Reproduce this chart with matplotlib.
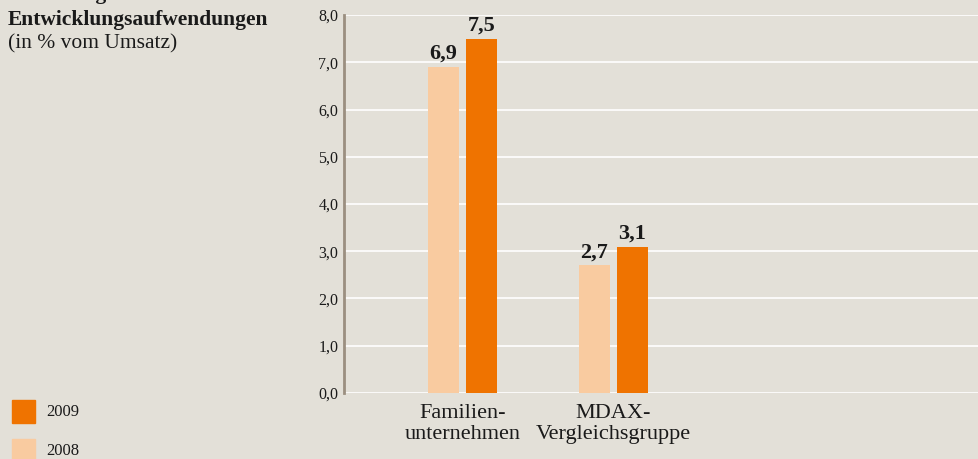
import numpy as np
import matplotlib.pyplot as plt

plt.rcParams["font.family"] = ["Liberation Serif", "DejaVu Serif"]

# Daten
kategorien = ["Familien-\nunternehmen", "MDAX-\nVergleichsgruppe"]
werte_2008 = [6.9, 2.7]
werte_2009 = [7.5, 3.1]
jahre = ["2009", "2008"]
yticks = [0.0, 1.0, 2.0, 3.0, 4.0, 5.0, 6.0, 7.0, 8.0]

bg = "#e3e0d8"
c2008 = "#f9cba0"
c2009 = "#ef7300"
textcol = "#1a1a1a"

H = 459.0
W = 979.0

fig = plt.figure(figsize=(9.79, 4.59), dpi=100, facecolor=bg)
ax = fig.add_axes([0.3514, 0.1438, 0.6486, 0.8235], facecolor=bg)

x = np.arange(len(kategorien))
w = 0.206
off = 0.126
b08 = ax.bar(x - off, werte_2008, w, color=c2008, zorder=3)
b09 = ax.bar(x + off, werte_2009, w, color=c2009, zorder=3)

for bars, vals in ((b08, werte_2008), (b09, werte_2009)):
    for b, v in zip(bars, vals):
        ax.text(b.get_x() + b.get_width() / 2, v + 0.07, f"{v:.1f}".replace(".", ","),
                ha="center", va="bottom", fontsize=16, fontweight="bold", color=textcol)

ax.set_xlim(-0.787, 3.43)
ax.set_ylim(0, 8)
ax.set_yticks(yticks)
ax.set_yticklabels([f"{t:.1f}".replace(".", ",") for t in yticks], fontsize=11.5, color=textcol)
ax.set_xticks(x)
ax.set_xticklabels(kategorien, fontsize=16, color=textcol, linespacing=1.12)
ax.tick_params(axis="both", length=0)
ax.tick_params(axis="y", pad=4)
ax.tick_params(axis="x", pad=8)

ax.grid(axis="y", color="white", linewidth=1.2, zorder=0)
for s in ("top", "right", "bottom"):
    ax.spines[s].set_visible(False)
ax.spines["left"].set_color("#9b8f80")
ax.spines["left"].set_linewidth(2)

# Titel (oben abgeschnitten)
fig.text(8 / W, 1 + 1 / H, "Forschungs- und", fontsize=15.5, fontweight="bold",
         color=textcol, va="baseline")
fig.text(8 / W, 1 - 25 / H, "Entwicklungsaufwendungen", fontsize=15.5, fontweight="bold",
         color=textcol, va="baseline")
fig.text(8 / W, 1 - 48 / H, "(in % vom Umsatz)", fontsize=15.5, color=textcol, va="baseline")

# Legende
for i, (jahr, col) in enumerate(zip(jahre, [c2009, c2008])):
    y0 = H - 400 - 23 - i * 39
    fig.patches.append(plt.Rectangle((12 / W, y0 / H), 23 / W, 23 / H,
                                     transform=fig.transFigure, color=col, figure=fig))
    fig.text(46 / W, (y0 + 11) / H, jahr, fontsize=12, color=textcol, va="center")

fig.savefig("out.png", dpi=100, facecolor=bg)
